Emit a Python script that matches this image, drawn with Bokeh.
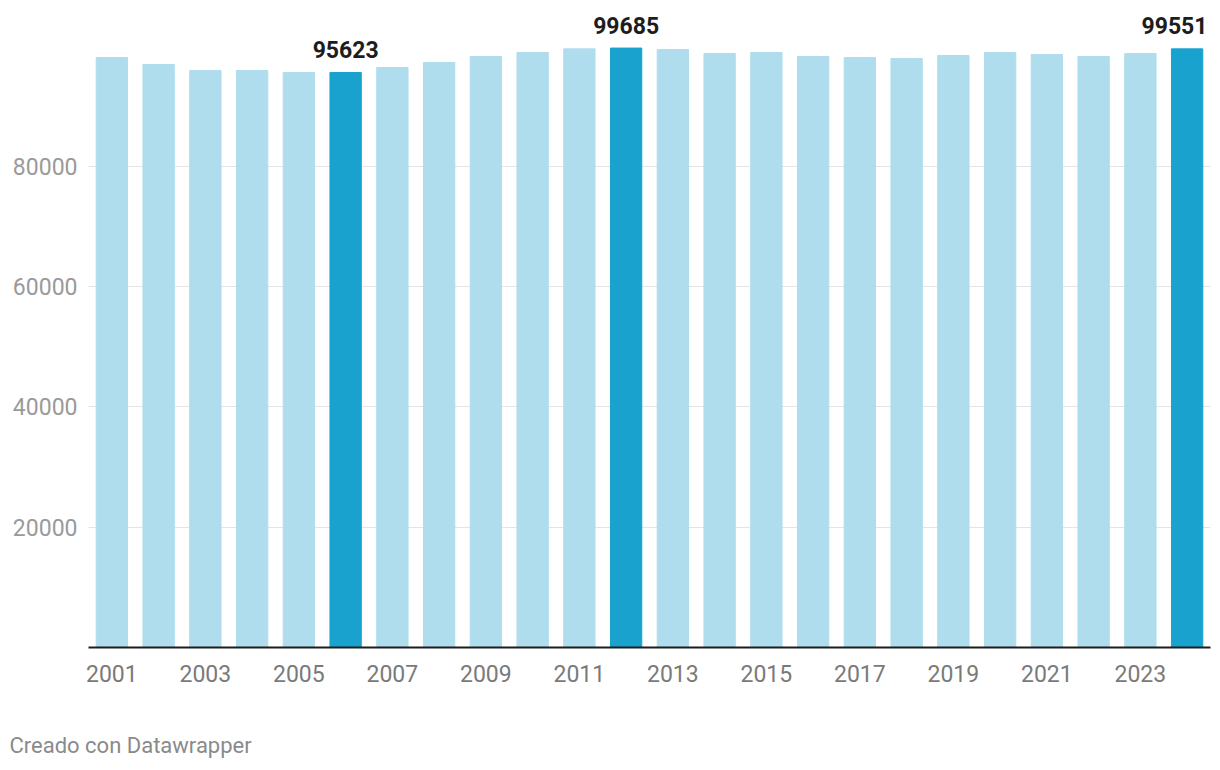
from bokeh.plotting import figure
from bokeh.models import ColumnDataSource, FixedTicker, Range1d, LinearAxis
from bokeh.core.properties import value
from bokeh.embed import file_html
from bokeh.resources import INLINE

years = list(range(2001, 2025))
values = [98100, 96950, 95950, 95950, 95600, 95623, 96450, 97290, 98280, 98950,
          99550, 99685, 99430, 98780, 98950, 98280, 98120, 97950, 98450, 98950,
          98620, 98280, 98780, 99551]
highlight_years = [2006, 2012, 2024]
x_tick_years = list(range(2001, 2024, 2))
y_ticks = [20000, 40000, 60000, 80000]
footer_text = "Creado con Datawrapper"

LIGHT = "#afdded"
DARK = "#19a2ce"
colors = [DARK if y in highlight_years else LIGHT for y in years]

src = ColumnDataSource(dict(x=years, top=values, color=colors))

p = figure(width=1211, height=766, output_backend="svg", toolbar_location=None,
           x_range=Range1d(2000.5, 2024.5), y_range=Range1d(0, 105930),
           min_border_left=88, min_border_right=1, min_border_top=10,
           min_border_bottom=119)
p.outline_line_color = None
p.background_fill_color = "white"
p.border_fill_color = "white"

p.vbar(x="x", top="top", width=0.67, color="color", source=src)

# value annotations
hv = [values[years.index(y)] for y in highlight_years]
p.text(x=highlight_years[:2], y=hv[:2], text=[str(v) for v in hv[:2]],
       text_align="center", text_baseline="alphabetic", y_offset=-23,
       text_font=value("Roboto"), text_font_style="bold", text_font_size="23px",
       text_color="#1d1d1d")
p.text(x=[2024.5], y=[hv[2]], text=[str(hv[2])],
       text_align="right", text_baseline="alphabetic", y_offset=-23, x_offset=-3,
       text_font=value("Roboto"), text_font_style="bold", text_font_size="23px",
       text_color="#1d1d1d")

# axes
p.xaxis.ticker = FixedTicker(ticks=x_tick_years)
p.xaxis.major_tick_line_color = None
p.xaxis.minor_tick_line_color = None
p.xaxis.axis_line_color = "#1d1d1d"
p.xaxis.axis_line_width = 2
p.xaxis.major_label_standoff = 11
p.xaxis.major_label_text_font = "Roboto"
p.xaxis.major_label_text_font_size = "23px"
p.xaxis.major_label_text_color = "#7a7a7a"

p.yaxis.ticker = FixedTicker(ticks=y_ticks)
p.yaxis.axis_line_color = None
p.yaxis.major_tick_line_color = None
p.yaxis.minor_tick_line_color = None
p.yaxis.major_label_standoff = 5
p.yaxis.major_label_text_font = "Roboto"
p.yaxis.major_label_text_font_size = "23px"
p.yaxis.major_label_text_color = "#9a9a9a"

p.xgrid.grid_line_color = None
p.ygrid.ticker = FixedTicker(ticks=y_ticks)
p.ygrid.grid_line_color = "#e4e4e4"
p.ygrid.grid_line_width = 1

# footer credit as a label-only axis underneath
footer_pos = 2001.4
footer_axis = LinearAxis(ticker=FixedTicker(ticks=[footer_pos]),
                         major_label_overrides={footer_pos: footer_text},
                         axis_line_color=None, major_tick_line_color=None,
                         minor_tick_line_color=None, major_tick_out=0,
                         major_tick_in=0, major_label_standoff=48,
                         major_label_text_font="Roboto",
                         major_label_text_font_size="22px",
                         major_label_text_color="#8a8a8a")
p.add_layout(footer_axis, "below")

open("out.html", "w").write(file_html(p, INLINE))
